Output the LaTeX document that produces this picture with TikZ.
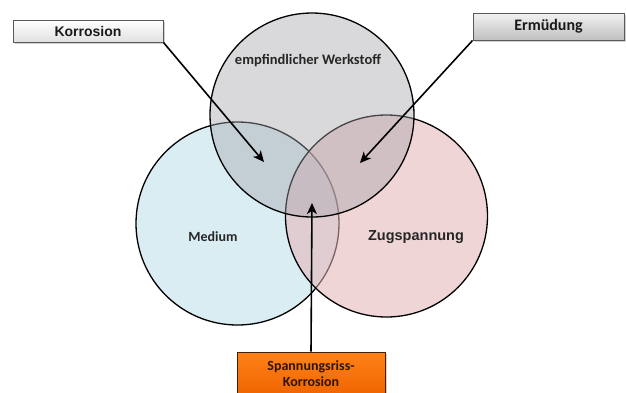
\documentclass[tikz,border=0pt]{standalone}
\usepackage{fontspec}
\setmainfont{Carlito}
\newfontfamily\arialfont{Liberation Sans}
\usetikzlibrary{arrows.meta,shadows}

\definecolor{werkgrau}{RGB}{165,165,172}
\definecolor{mediumblau}{RGB}{218,237,243}
\definecolor{zugrosa}{RGB}{228,180,183}
\definecolor{orangetop}{RGB}{255,130,25}
\definecolor{orangebot}{RGB}{238,100,0}

\tikzset{
  kreis/.style={draw=black, line width=1.3pt},
  kasten/.style={draw=black!65, line width=1pt, inner sep=0pt, text=black!90,
    drop shadow={opacity=0.35, shadow xshift=1.5pt, shadow yshift=-1.5pt}},
  pfeil/.style={line width=1.6pt, -{Stealth[length=11pt,width=10pt,inset=3pt]}}
}

\begin{document}
\begin{tikzpicture}[x=1pt,y=-1pt]
\useasboundingbox[fill=white] (0,0) rectangle (626,392);

% die drei Kreise
\filldraw[kreis, fill=mediumblau] (237.5,223.5) circle (101.5pt);
\filldraw[kreis, fill=zugrosa, fill opacity=0.55] (386.5,216) circle (101pt);
\filldraw[kreis, fill=werkgrau, fill opacity=0.42] (312,115) circle (102pt);

\node[font=\bfseries\fontsize{14.5}{16}\selectfont, text=black!85] (werk) at (308,61) {empfindlicher Werkstoff};
\node[font=\bfseries\fontsize{14}{16}\selectfont, text=black!85] (medium) at (213,237) {Medium};
\node[font=\arialfont\bfseries\fontsize{14.5}{16}\selectfont, text=black!85] (zug) at (416,237) {Zugspannung};

% Kaesten
\node[kasten, top color=white, bottom color=black!12, minimum width=150pt, minimum height=22pt,
      font=\arialfont\bfseries\fontsize{14}{16}\selectfont] (korr) at (88,31) {Korrosion};
\node[kasten, top color=black!5, bottom color=black!25, minimum width=151pt, minimum height=27pt,
      font=\bfseries\fontsize{16}{18}\selectfont] (ermued) at (548.5,26.5) {Erm\"udung};
\node[kasten, draw=black!70!orangebot, top color=orangetop, bottom color=orangebot,
      minimum width=148pt, minimum height=44pt, align=center, text=black!80!orangebot,
      font=\bfseries\fontsize{14}{16}\selectfont] (srk) at (311,374) {Spannungsriss-\\Korrosion};

% Pfeilspitzen
\coordinate (ziel1) at (264,162);
\coordinate (ziel2) at (360,163);
\coordinate (ziel3) at (312,203);

\draw[pfeil] (korr.south east) -- (ziel1);
\draw[pfeil] (ermued.south west) -- (ziel2);
\draw[pfeil] (srk.north) -- (ziel3);
\end{tikzpicture}
\end{document}
